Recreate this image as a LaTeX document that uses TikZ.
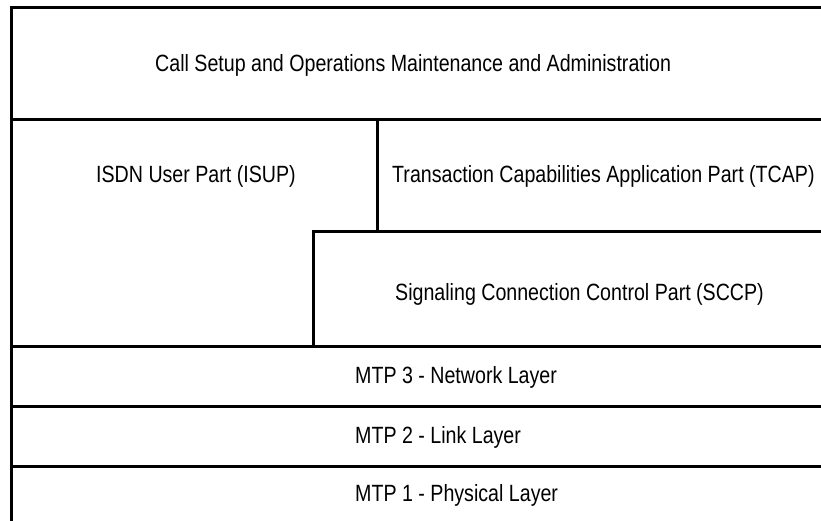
\documentclass[tikz,border=0pt]{standalone}
\usepackage{fontspec}
\setmainfont{Liberation Sans}[FakeStretch=0.835]
\begin{document}
\begin{tikzpicture}[x=1pt,y=-1pt,
  rule/.style={line width=3pt,black,line cap=rect},
  layer/.style={anchor=base west,inner sep=0pt,font=\fontsize{23.5}{28}\selectfont}]
\useasboundingbox (0,0) rectangle (821,521);
\clip (0,0) rectangle (821,521);
% outer frame and layer separators (the stack runs on past the right edge)
\draw[rule] (11,530) -- (11,8) -- (840,8);
\draw[rule] (11,120) -- (840,120);
\draw[rule] (377,120) -- (377,232);
\draw[rule] (313,346) -- (313,232) -- (840,232);
\draw[rule] (11,346) -- (840,346);
\draw[rule] (11,406) -- (840,406);
\draw[rule] (11,466) -- (840,466);
% layer captions
\node[layer] (callsetup) at (155,71.5) {Call Setup and Operations Maintenance and Administration};
\node[layer] (isup) at (96,182.5) {ISDN User Part (ISUP)};
\node[layer] (tcap) at (392,182.5) {Transaction Capabilities Application Part (TCAP)};
\node[layer] (sccp) at (395,300) {Signaling Connection Control Part (SCCP)};
\node[layer] (mtp3) at (355,383.5) {MTP 3 - Network Layer};
\node[layer] (mtp2) at (355,443.5) {MTP 2 - Link Layer};
\node[layer] (mtp1) at (355,501.5) {MTP 1 - Physical Layer};
\end{tikzpicture}
\end{document}
